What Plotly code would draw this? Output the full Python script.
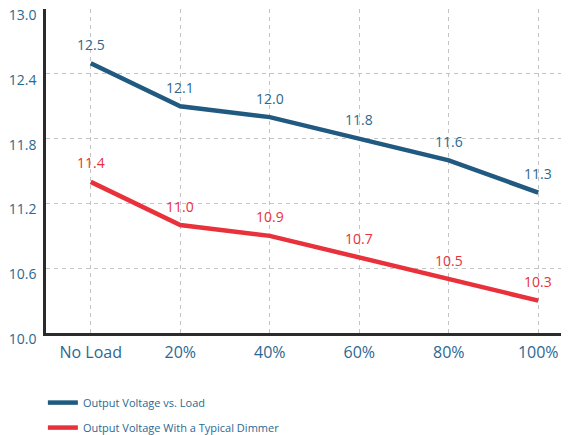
import plotly.graph_objects as go

categories = ["No Load", "20%", "40%", "60%", "80%", "100%"]
load_voltage = [12.5, 12.1, 12.0, 11.8, 11.6, 11.3]
dimmer_voltage = [11.4, 11.0, 10.9, 10.7, 10.5, 10.3]
y_ticks = [10.0, 10.6, 11.2, 11.8, 12.4, 13.0]

BLUE = "#205a80"
RED = "#e8313b"
LABEL_BLUE = "#2c6892"
FONT = "Open Sans"

fig = go.Figure()
fig.add_trace(go.Scatter(x=categories, y=load_voltage, mode="lines",
                         name="Output Voltage vs. Load", legendgroup="a",
                         line=dict(color=BLUE, width=4.5)))
fig.add_trace(go.Scatter(x=categories, y=dimmer_voltage, mode="lines",
                         name="Output Voltage With a Typical Dimmer", legendgroup="b",
                         line=dict(color=RED, width=4.5)))

annotations = []
for c, v in zip(categories, load_voltage):
    annotations.append(dict(x=c, y=v, text=f"{v:.1f}", showarrow=False, yshift=19,
                            font=dict(family=FONT, size=14, color=LABEL_BLUE)))
for c, v in zip(categories, dimmer_voltage):
    annotations.append(dict(x=c, y=v, text=f"{v:.1f}", showarrow=False, yshift=19,
                            font=dict(family=FONT, size=14, color=RED)))

# the page body has an 8px default margin, so the figure is sized to fit the window
fig.update_layout(
    width=561, height=427,
    margin=dict(l=38, r=3, t=1, b=102, autoexpand=False),
    paper_bgcolor="white", plot_bgcolor="white",
    annotations=annotations,
    showlegend=True,
    legend=dict(x=-0.006, xanchor="left", y=-0.17, yanchor="top",
                font=dict(family=FONT, size=11, color=LABEL_BLUE),
                traceorder="grouped", tracegroupgap=6,
                bgcolor="rgba(0,0,0,0)"),
    xaxis=dict(type="category", range=[-0.5, 5.31], automargin=False,
               showline=True, linecolor="#2b2b2b", linewidth=2.5,
               showgrid=True, gridcolor="#c4c4c4", griddash="4px,4px", gridwidth=1.2,
               ticks="", ticklabelstandoff=3,
               tickfont=dict(family=FONT, size=16, color=LABEL_BLUE),
               zeroline=False),
    yaxis=dict(range=[10.0, 13.002], tickvals=y_ticks, automargin=False,
               ticktext=[f"{t:.1f}" for t in y_ticks],
               showline=True, linecolor="#2b2b2b", linewidth=2.5,
               showgrid=True, gridcolor="#c4c4c4", griddash="4px,4px", gridwidth=1.2,
               ticks="", ticklabelshift=6, ticklabelstandoff=4,
               ticklabeloverflow="allow",
               tickfont=dict(family=FONT, size=14, color=LABEL_BLUE),
               zeroline=False),
)

fig.write_html("out.html")
